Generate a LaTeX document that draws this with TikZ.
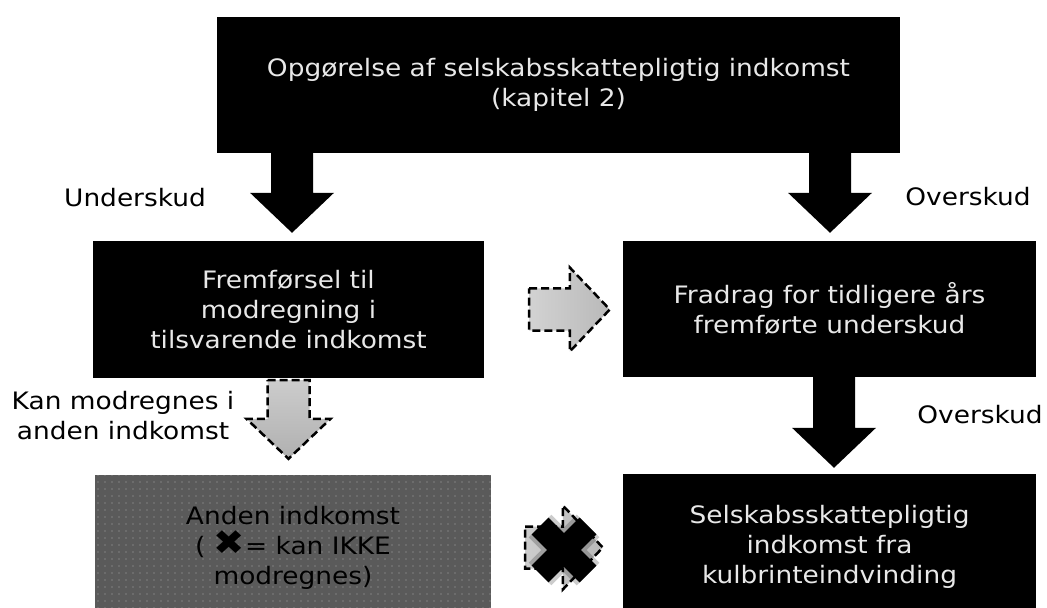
\documentclass[tikz,border=0pt]{standalone}
\usepackage{fontspec}
\setmainfont{DejaVu Sans}[FakeStretch=1.1]
\usetikzlibrary{calc,patterns.meta}
\definecolor{boxgray}{HTML}{5A5A5A}
\definecolor{boxtext}{HTML}{E8E8E8}

% block arrows between two points (shaft from #2, tip at #3)
\newcommand{\blockdown}[3]{%
  \path[#1] let \p1=(#2), \p2=(#3) in
    (\x1-\shaft,\y1) -- (\x1+\shaft,\y1) -- (\x1+\shaft,\y2+\headlen) -- (\x1+\headw,\y2+\headlen)
    -- (\x1,\y2) -- (\x1-\headw,\y2+\headlen) -- (\x1-\shaft,\y2+\headlen) -- cycle;}
\newcommand{\blockright}[3]{%
  \path[#1] let \p1=(#2), \p2=(#3) in
    (\x1,\y1+\shaft) -- (\x2-\headlen,\y1+\shaft) -- (\x2-\headlen,\y1+\headw) -- (\x2,\y1)
    -- (\x2-\headlen,\y1-\headw) -- (\x2-\headlen,\y1-\shaft) -- (\x1,\y1-\shaft) -- cycle;}

\tikzset{
  txt/.style={font=\fontsize{24bp}{30bp}\selectfont, align=center, inner sep=0pt},
  box/.style={txt, fill=black, text=boxtext},
  greybox/.style={txt, fill=boxgray, text=black,
    postaction={pattern={Dots[distance=7bp,radius=0.6bp]}, pattern color=gray!68}},
  solidarrow/.style={fill=black},
  dasharrow/.style={draw=black, line width=2.5bp, dash pattern=on 8bp off 4bp}
}

\begin{document}
\begin{tikzpicture}[x=1bp,y=-1bp]
  % arrow sizes
  \def\shaft{21bp}
  \def\headw{42bp}
  \def\headlen{40bp}

  \useasboundingbox (0,0) rectangle (1047,608);
  \clip (0,0) rectangle (1047,608);

  % Boxes
  \node[box, minimum width=683bp, minimum height=136bp] (top) at (558.5,85)
    {Opgørelse af selskabsskattepligtig indkomst\\(kapitel 2)};
  \node[box, minimum width=391bp, minimum height=137bp] (lmid) at (288.5,309.5)
    {Fremførsel til\\modregning i\\tilsvarende indkomst};
  \node[box, minimum width=413bp, minimum height=136bp] (rmid) at (829.5,309)
    {Fradrag for tidligere års\\fremførte underskud};
  \node[greybox, minimum width=396bp, minimum height=145bp] (lbot) at (293,547.5)
    {Anden indkomst\\( {\fontsize{34bp}{30bp}\selectfont\smash{✖}}= kan IKKE\\modregnes)};
  \node[box, minimum width=413bp, minimum height=146bp] (rbot) at (829.5,547)
    {Selskabsskattepligtig\\indkomst fra\\kulbrinteindvinding};

  % Labels
  \node[txt] (under) at (135,198) {Underskud};
  \node[txt] (over1) at (968,197) {Overskud};
  \node[txt] (over2) at (980,415) {Overskud};
  \node[txt] (kan) at (123,416) {Kan modregnes i\\anden indkomst};

  % Black arrows
  \coordinate (colL) at (292,0);
  \coordinate (colR) at (830,0);
  \coordinate (colRR) at (834,0);
  \foreach \col/\from/\to/\gap in {colL/top/lmid/8, colR/top/rmid/8, colRR/rmid/rbot/6} {
    \blockdown{solidarrow}{\col |- \from.south}{[yshift=\gap bp]\col |- \to.north}
  }

  % Dashed arrows
  \blockdown{dasharrow, top color=gray!40, bottom color=gray!62}{[yshift=-2bp]lmid.south}{[yshift=16bp]lbot.north}
  \blockright{dasharrow, left color=gray!35, right color=gray!55}{[xshift=45bp]lmid.east}{[xshift=-13bp]rmid.west}
  \blockright{dasharrow, left color=gray!40, right color=gray!55}{[xshift=34bp]lbot.east}{[xshift=-20bp]rbot.west}

  % X over the lower arrow
  \coordinate (nogo) at (564,550);
  \draw[line width=32bp, black, opacity=0.2] ([shift={(-24,-24)}]nogo) -- ([shift={(24,24)}]nogo)
    ([shift={(-24,24)}]nogo) -- ([shift={(24,-24)}]nogo);
  \draw[line width=24bp, black] ([shift={(-24,-24)}]nogo) -- ([shift={(24,24)}]nogo)
    ([shift={(-24,24)}]nogo) -- ([shift={(24,-24)}]nogo);

\end{tikzpicture}
\end{document}
